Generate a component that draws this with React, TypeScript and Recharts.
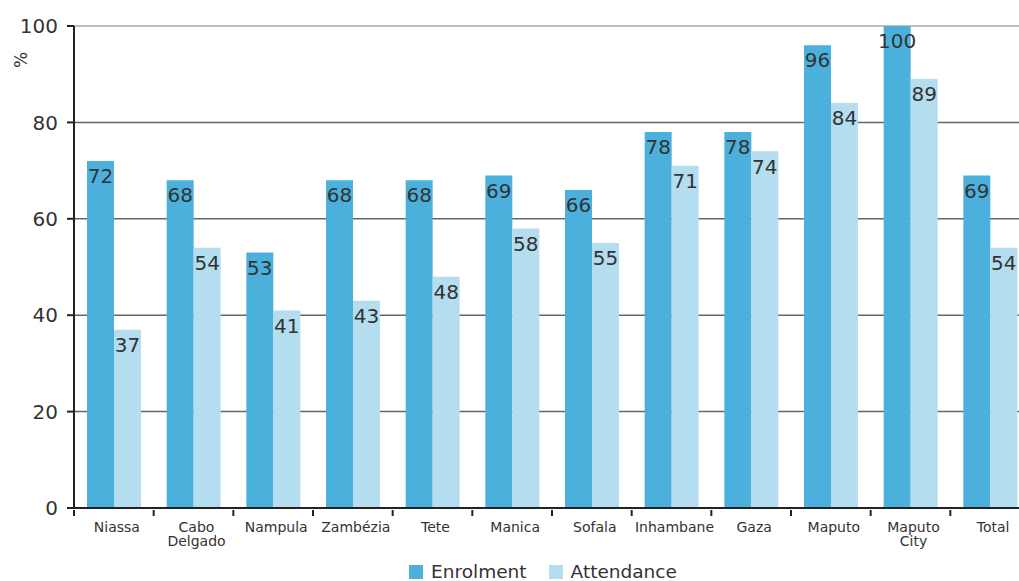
import { Bar, BarChart, CartesianGrid, LabelList, Legend, XAxis, YAxis } from "recharts";

const CATEGORIES = [
  "Niassa",
  "Cabo Delgado",
  "Nampula",
  "Zambézia",
  "Tete",
  "Manica",
  "Sofala",
  "Inhambane",
  "Gaza",
  "Maputo",
  "Maputo City",
  "Total",
];
const ENROLMENT = [72, 68, 53, 68, 68, 69, 66, 78, 78, 96, 100, 69];
const ATTENDANCE = [37, 54, 41, 43, 48, 58, 55, 71, 74, 84, 89, 54];
const Y_TICKS = [0, 20, 40, 60, 80, 100];

const ENROL_COLOR = "#4bb1dc";
const ATTEND_COLOR = "#b4def0";
const TEXT = "#333333";
const FONT = "'DejaVu Sans', sans-serif";

const CHART_W = 1030;
const CHART_H = 581;
const Y_W = 74;
const BAND = (CHART_W - Y_W) / CATEGORIES.length;

const data = CATEGORIES.map((name, i) => ({
  name,
  enrolment: ENROLMENT[i],
  attendance: ATTENDANCE[i],
}));

function CategoryTick(props: any) {
  const { x, y, payload } = props;
  const lines = String(payload.value).split(" ");
  const left = x - BAND / 2;
  return (
    <g>
      <line x1={left} x2={left} y1={y - 6} y2={y} stroke="#222" strokeWidth={2} />
      {lines.map((line, i) => (
        <text
          key={line}
          x={x + 3}
          y={y + 16 + i * 14}
          textAnchor="middle"
          fill={TEXT}
          fontSize={14}
          fontFamily={FONT}
        >
          {line}
        </text>
      ))}
    </g>
  );
}

function GridLine(props: any) {
  // the top line (100) is lighter in the original
  const top = Math.abs(props.y1 - props.y) < 1;
  return (
    <line
      key={props.key}
      x1={props.x1}
      x2={props.x2}
      y1={props.y1}
      y2={props.y2}
      stroke={top ? "#aaaaaa" : "#666666"}
      strokeWidth={1.5}
    />
  );
}

function LegendContent() {
  const items = [
    { label: "Enrolment", color: ENROL_COLOR },
    { label: "Attendance", color: ATTEND_COLOR },
  ];
  return (
    <div
      style={{
        display: "flex",
        justifyContent: "center",
        alignItems: "center",
        height: 20,
        lineHeight: "20px",
        paddingLeft: 56,
        gap: 22,
        fontFamily: FONT,
        fontSize: 18.5,
        color: TEXT,
        transform: "translateY(1px)",
      }}
    >
      {items.map((item) => (
        <span key={item.label} style={{ display: "flex", alignItems: "center", gap: 8 }}>
          <span style={{ width: 14, height: 14, background: item.color, display: "inline-block" }} />
          {item.label}
        </span>
      ))}
    </div>
  );
}

export default function App() {
  return (
    <div
      style={{
        position: "fixed",
        left: 0,
        top: 0,
        width: 1019,
        height: 581,
        overflow: "hidden",
        background: "#fff",
      }}
    >
      <BarChart
        width={CHART_W}
        height={CHART_H}
        data={data}
        margin={{ top: 26, right: 0, bottom: 0, left: 0 }}
        barGap={0}
      >
        <CartesianGrid vertical={false} horizontal={GridLine} />
        <XAxis
          dataKey="name"
          height={53}
          tick={CategoryTick}
          tickLine={false}
          axisLine={{ stroke: "#222", strokeWidth: 2 }}
          interval={0}
        />
        <YAxis
          width={Y_W}
          domain={[0, 100]}
          ticks={Y_TICKS}
          tickSize={7}
          tickMargin={9}
          tickLine={{ stroke: "#222", strokeWidth: 2 }}
          axisLine={{ stroke: "#222", strokeWidth: 2 }}
          tick={{ fill: TEXT, fontSize: 20, fontFamily: FONT }}
          label={{
            content: () => (
              <text
                x={21}
                y={60}
                transform="rotate(-90, 21, 60)"
                textAnchor="middle"
                dominantBaseline="central"
                fill={TEXT}
                fontSize={17}
                fontFamily={FONT}
              >
                %
              </text>
            ),
          }}
        />
        <Legend verticalAlign="bottom" content={LegendContent} />
        <Bar dataKey="enrolment" name="Enrolment" fill={ENROL_COLOR} barSize={27} isAnimationActive={false}>
          <LabelList
            dataKey="enrolment"
            position="insideTop"
            offset={8}
            fill={TEXT}
            fontSize={20}
            fontFamily={FONT}
          />
        </Bar>
        <Bar dataKey="attendance" name="Attendance" fill={ATTEND_COLOR} barSize={27} isAnimationActive={false}>
          <LabelList
            dataKey="attendance"
            position="insideTop"
            offset={8}
            fill={TEXT}
            fontSize={20}
            fontFamily={FONT}
          />
        </Bar>
      </BarChart>
    </div>
  );
}
